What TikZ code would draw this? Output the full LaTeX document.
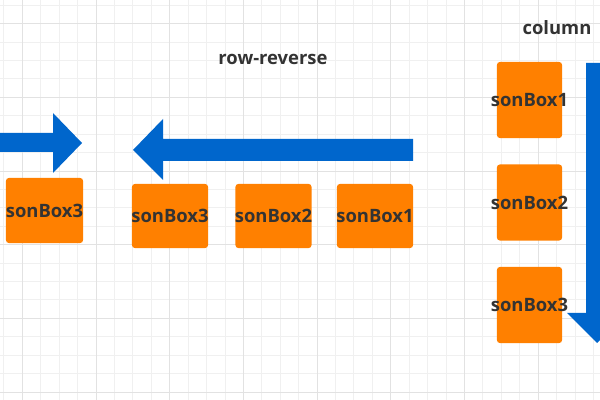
\documentclass[tikz,border=0pt]{standalone}
\usepackage{fontspec}
\setmainfont{Open Sans}
\definecolor{boxorange}{HTML}{FF8000}
\definecolor{arrowblue}{HTML}{0066CC}
\definecolor{textgray}{HTML}{333333}
\definecolor{minorgray}{HTML}{F0F0F0}
\definecolor{majorgray}{HTML}{E2E2E2}
\begin{document}
\begin{tikzpicture}[x=0.025cm,y=-0.025cm,
    boxtext/.style={text=textgray,font=\fontsize{13.1pt}{15pt}\selectfont\bfseries,inner sep=0pt},
    sonbox/.style={fill=boxorange,rounded corners=2pt,inner sep=0pt,label={[boxtext]center:#1}},
    rowbox/.style={sonbox=#1,minimum width=1.9cm,minimum height=1.6cm},
    colbox/.style={sonbox=#1,minimum width=1.625cm,minimum height=1.9cm}]
    \useasboundingbox (0,0) rectangle (600,400);
    \fill[white] (0,0) rectangle (600,400);
    % background grid
    \foreach \i in {0,...,32}
        \draw[minorgray,line width=0.6pt] ({3.9+18.42*\i},0) -- ({3.9+18.42*\i},400);
    \foreach \j in {0,...,21}
        \draw[minorgray,line width=0.6pt] (0,{5.2+18.42*\j}) -- (600,{5.2+18.42*\j});
    \foreach \i in {0,...,7}
        \draw[majorgray,line width=0.6pt] ({22.3+73.68*\i},0) -- ({22.3+73.68*\i},400);
    \foreach \j in {0,...,5}
        \draw[majorgray,line width=0.6pt] (0,{23.6+73.68*\j}) -- (600,{23.6+73.68*\j});
    % titles
    \node[boxtext] (rrtitle) at (273,59) {row-reverse};
    \node[boxtext] (coltitle) at (557,28) {column};
    % arrows
    \fill[arrowblue] (-5,133) -- (53,133) -- (53,113) -- (82,143) -- (53,173) -- (53,152) -- (-5,152) -- cycle;
    \fill[arrowblue] (413,139) -- (163,139) -- (163,119) -- (133,150) -- (163,180) -- (163,161) -- (413,161) -- cycle;
    \fill[arrowblue] (586,63) -- (608,63) -- (608,313) -- (627,313) -- (597,343) -- (567,313) -- (586,313) -- cycle;
    % boxes
    \node[sonbox=sonBox3,minimum width=1.925cm,minimum height=1.625cm] (left3) at (44.5,210.5) {};
    \node[rowbox=sonBox3] (rr3) at (170,216) {};
    \node[rowbox=sonBox2] (rr2) at (273.5,216) {};
    \node[rowbox=sonBox1] (rr1) at (375,216) {};
    \node[colbox=sonBox1] (col1) at (529.5,100) {};
    \node[colbox=sonBox2] (col2) at (529.5,202.5) {};
    \node[colbox=sonBox3] (col3) at (529.5,305) {};
\end{tikzpicture}
\end{document}
